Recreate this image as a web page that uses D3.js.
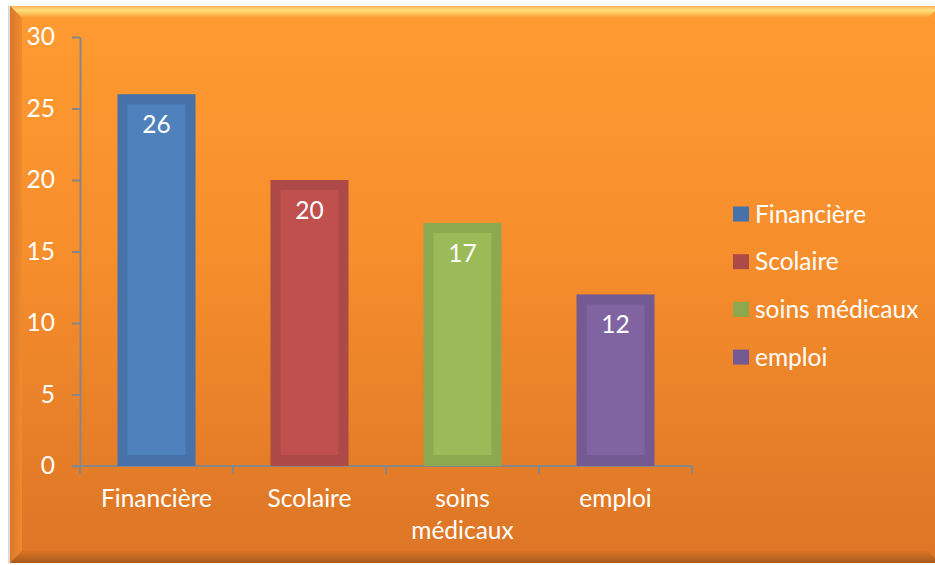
<!DOCTYPE html>
<html>
<head>
<meta charset="utf-8">
<script src="https://cdn.jsdelivr.net/npm/d3@7"></script>
<style>
  html, body { margin: 0; padding: 0; background: #fff; }
  svg text { font-family: Lato, "Open Sans", sans-serif; fill: #fff; }
</style>
</head>
<body>
<div id="chart"></div>
<script>
const categories = ["Financière", "Scolaire", "soins médicaux", "emploi"];
const values = [26, 20, 17, 12];
const yTicks = [0, 5, 10, 15, 20, 25, 30];
const outerColors = ["#4672a9", "#ad4a47", "#8ca94f", "#745a93"];
const innerColors = ["#4f81bd", "#c0504d", "#9bbb59", "#8064a2"];

const W = 935, H = 565;
const FS = 24.5;
const margin = { top: 37, right: 243, bottom: 99, left: 80 },
    width = W - margin.left - margin.right,
    height = H - margin.top - margin.bottom;

const svg = d3.select("#chart")
    .append("svg")
    .attr("width", W)
    .attr("height", H);

const defs = svg.append("defs");

const bg = defs.append("linearGradient").attr("id", "bg")
    .attr("x1", 0).attr("y1", 0).attr("x2", 0).attr("y2", 1);
bg.append("stop").attr("offset", "0%").attr("stop-color", "#fe9b31");
bg.append("stop").attr("offset", "45%").attr("stop-color", "#f68e2c");
bg.append("stop").attr("offset", "100%").attr("stop-color", "#dc7526");

const topG = defs.append("linearGradient").attr("id", "topBevel")
    .attr("x1", 0).attr("y1", 0).attr("x2", 0).attr("y2", 1);
topG.append("stop").attr("offset", "0%").attr("stop-color", "#ffb060");
topG.append("stop").attr("offset", "35%").attr("stop-color", "#ffe07c");
topG.append("stop").attr("offset", "100%").attr("stop-color", "#fe9b31");

const leftG = defs.append("linearGradient").attr("id", "leftBevel")
    .attr("x1", 0).attr("y1", 0).attr("x2", 1).attr("y2", 0);
leftG.append("stop").attr("offset", "0%").attr("stop-color", "#d8782a");
leftG.append("stop").attr("offset", "100%").attr("stop-color", "#f08a2d");

const botG = defs.append("linearGradient").attr("id", "botBevel")
    .attr("x1", 0).attr("y1", 0).attr("x2", 0).attr("y2", 1);
botG.append("stop").attr("offset", "0%").attr("stop-color", "#d87424");
botG.append("stop").attr("offset", "100%").attr("stop-color", "#a85a1c");

// panel with bevelled edges
const px0 = 10, py0 = 6, px1 = 940, py1 = 563, bv = 12;
svg.append("rect")
    .attr("x", px0 - 2).attr("y", py0)
    .attr("width", 3).attr("height", py1 - py0)
    .attr("fill", "#d9d9d9");
svg.append("rect")
    .attr("x", px0).attr("y", py0)
    .attr("width", px1 - px0).attr("height", py1 - py0)
    .attr("fill", "url(#bg)");
svg.append("polygon")
    .attr("points", [[px0, py0], [px1, py0], [px1 - bv, py0 + bv], [px0 + bv, py0 + bv]].join(" "))
    .attr("fill", "url(#topBevel)");
svg.append("polygon")
    .attr("points", [[px0, py0], [px0 + bv, py0 + bv], [px0 + bv, py1 - bv], [px0, py1]].join(" "))
    .attr("fill", "url(#leftBevel)");
svg.append("polygon")
    .attr("points", [[px0, py1], [px0 + bv, py1 - bv], [px1 - bv, py1 - bv], [px1, py1]].join(" "))
    .attr("fill", "url(#botBevel)");

const g = svg.append("g")
    .attr("transform", `translate(${margin.left},${margin.top})`);

const xScale = d3.scaleBand()
    .domain(categories)
    .range([0, width])
    .paddingInner(0.49)
    .paddingOuter(0.245);

const yScale = d3.scaleLinear()
    .domain([0, 30])
    .range([height, 0]);

// y axis
const yAxis = g.append("g")
    .call(d3.axisLeft(yScale).tickValues(yTicks).tickSize(8).tickPadding(17).tickSizeOuter(0));
yAxis.select(".domain").attr("stroke", "#878787").attr("stroke-width", 2);
yAxis.selectAll(".tick line").attr("stroke", "#878787").attr("stroke-width", 2);
yAxis.selectAll("text").attr("font-size", FS).attr("fill", "#fff")
    .attr("font-family", "Lato, sans-serif");

// x axis
const step = width / categories.length;
const xAxis = g.append("g")
    .attr("transform", `translate(0,${height})`);
xAxis.append("line")
    .attr("x1", -8).attr("x2", width)
    .attr("stroke", "#878787").attr("stroke-width", 2);
xAxis.selectAll(".xt")
    .data(d3.range(categories.length + 1))
    .join("line")
    .attr("x1", i => i * step).attr("x2", i => i * step)
    .attr("y1", 0).attr("y2", 8)
    .attr("stroke", "#878787").attr("stroke-width", 2);

const xLabels = xAxis.selectAll(".xl")
    .data(categories)
    .join("text")
    .attr("text-anchor", "middle")
    .attr("font-size", FS)
    .attr("x", d => xScale(d) + xScale.bandwidth() / 2)
    .attr("y", 41);
xLabels.each(function (d) {
    const words = d.split(" ");
    const t = d3.select(this);
    words.forEach((w, i) => {
        t.append("tspan")
            .attr("x", xScale(d) + xScale.bandwidth() / 2)
            .attr("dy", i === 0 ? 0 : 32)
            .text(w);
    });
});

// bars
const bars = g.selectAll(".bar")
    .data(values)
    .join("g")
    .attr("class", "bar");

bars.append("rect")
    .attr("x", (d, i) => xScale(categories[i]))
    .attr("y", d => yScale(d))
    .attr("width", xScale.bandwidth())
    .attr("height", d => height - yScale(d))
    .attr("fill", (d, i) => outerColors[i]);

bars.append("rect")
    .attr("x", (d, i) => xScale(categories[i]) + 10)
    .attr("y", d => yScale(d) + 10)
    .attr("width", xScale.bandwidth() - 20)
    .attr("height", d => height - yScale(d) - 21)
    .attr("fill", (d, i) => innerColors[i]);

bars.append("text")
    .attr("text-anchor", "middle")
    .attr("font-size", FS)
    .attr("x", (d, i) => xScale(categories[i]) + xScale.bandwidth() / 2)
    .attr("y", d => yScale(d) + 39)
    .text(d => d);

// legend
const legend = svg.append("g")
    .attr("transform", "translate(733,214)");
const items = legend.selectAll(".li")
    .data(categories)
    .join("g")
    .attr("transform", (d, i) => `translate(0,${i * 47.7})`);
items.append("rect")
    .attr("x", 0).attr("y", -7.5)
    .attr("width", 16).attr("height", 15)
    .attr("fill", (d, i) => outerColors[i]);
items.append("text")
    .attr("x", 22)
    .attr("y", 8.5)
    .attr("font-size", FS)
    .text(d => d);
</script>
</body>
</html>
